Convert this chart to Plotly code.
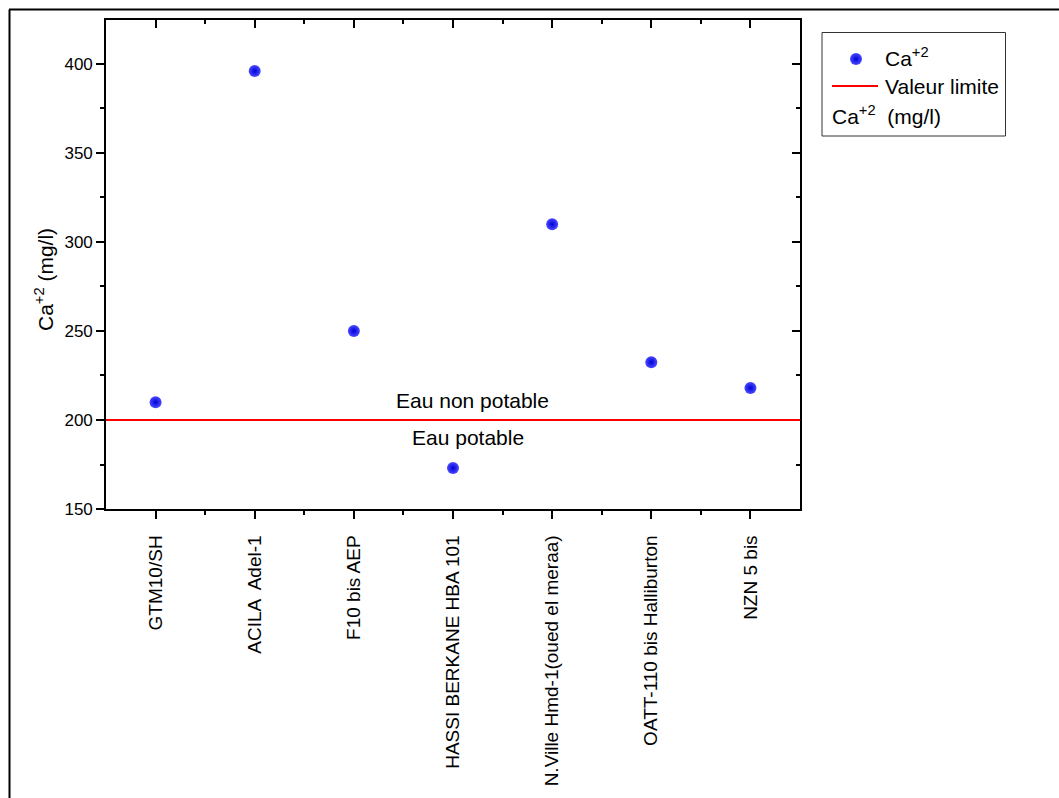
import plotly.graph_objects as go

# ---- data ----
categories = ["GTM10/SH", "ACILA  Adel-1", "F10 bis AEP", "HASSI BERKANE HBA 101",
              "N.Ville Hmd-1(oued el meraa)", "OATT-110 bis Halliburton", "NZN 5 bis"]
ca_values = [210, 396, 250, 173, 310, 232.5, 218]
limit_value = 200
zone_labels = ["Eau non potable", "Eau potable"]
y_ticks = [150, 200, 250, 300, 350, 400]

W, H = 1059, 798
FONT = "Arial, Liberation Sans, sans-serif"

def px(x):
    return x / W

def py(y):
    return 1 - y / H

idx = list(range(len(categories)))
minor_x = [i + 0.5 for i in idx[:-1]]
xrange_ = [-0.5, len(categories) - 0.5]
yrange_ = [150, 424.7]

xdom = [px(106), px(800)]
ydom = [py(509), py(20)]

fig = go.Figure()

sphere = dict(size=12, color="#4a4aff", line=dict(width=0),
              gradient=dict(type="radial", color="#0000d8"))

fig.add_trace(go.Scatter(x=idx, y=ca_values, mode="markers", marker=sphere,
                         showlegend=False, name="Ca+2"))
# helper traces for mirrored (top / right) axes
fig.add_trace(go.Scatter(x=[None], y=[None], xaxis="x2", yaxis="y",
                         showlegend=False, hoverinfo="skip"))
fig.add_trace(go.Scatter(x=[None], y=[None], xaxis="x", yaxis="y2",
                         showlegend=False, hoverinfo="skip"))
# legend symbol on a pixel-space helper axis
fig.add_trace(go.Scatter(x=[856], y=[59], xaxis="x3", yaxis="y3", mode="markers",
                         marker=sphere, showlegend=False, hoverinfo="skip"))

axis_common = dict(showgrid=False, zeroline=False, showline=True, linecolor="black",
                   linewidth=1.6, tickcolor="black", tickwidth=1.5, automargin=False)

fig.update_layout(
    width=W, height=H,
    margin=dict(l=0, r=0, t=0, b=0, autoexpand=False),
    paper_bgcolor="white", plot_bgcolor="rgba(0,0,0,0)",
    font=dict(family=FONT, color="black"),
    showlegend=False,
    xaxis=dict(domain=xdom, range=xrange_, tickmode="array", tickvals=idx,
               ticktext=categories, tickangle=-90, ticks="outside", ticklen=8,
               tickfont=dict(size=19), ticklabelstandoff=9,
               minor=dict(tickmode="array", tickvals=minor_x, ticks="outside",
                          ticklen=4, tickcolor="black", tickwidth=1.5),
               anchor="y", **axis_common),
    yaxis=dict(domain=ydom, range=yrange_, tickmode="array", tickvals=y_ticks,
               ticks="outside", ticklen=8, tickfont=dict(size=17),
               minor=dict(tickmode="linear", tick0=0, dtick=25, ticks="outside",
                          ticklen=4, tickcolor="black", tickwidth=1.5),
               anchor="x", **axis_common),
    xaxis2=dict(overlaying="x", side="top", range=xrange_, tickmode="array",
                tickvals=idx, ticks="inside", ticklen=8, showticklabels=False,
                minor=dict(tickmode="array", tickvals=minor_x, ticks="inside",
                           ticklen=4, tickcolor="black", tickwidth=1.5),
                anchor="y", **axis_common),
    yaxis2=dict(overlaying="y", side="right", range=yrange_, tickmode="array",
                tickvals=y_ticks, ticks="inside", ticklen=8, showticklabels=False,
                minor=dict(tickmode="linear", tick0=0, dtick=25, ticks="inside",
                           ticklen=4, tickcolor="black", tickwidth=1.5),
                anchor="x", **axis_common),
    xaxis3=dict(domain=[0, 1], range=[0, W], visible=False, anchor="y3",
                fixedrange=True, automargin=False),
    yaxis3=dict(domain=[0, 1], range=[H, 0], visible=False, anchor="x3",
                fixedrange=True, automargin=False),
)

shapes = [
    # limit line
    dict(type="line", xref="x domain", yref="y", x0=0, x1=1, y0=limit_value, y1=limit_value,
         line=dict(color="#ff0000", width=2)),
    # outer frame
    dict(type="line", xref="paper", yref="paper", x0=px(9), x1=1.02, y0=py(9.5), y1=py(9.5),
         line=dict(color="black", width=2)),
    dict(type="line", xref="paper", yref="paper", x0=px(9.5), x1=px(9.5), y0=py(9.5), y1=-0.02,
         line=dict(color="black", width=2)),
    # legend box
    dict(type="rect", xref="paper", yref="paper", x0=px(822), x1=px(1005.5), y0=py(32.5), y1=py(136),
         line=dict(color="#333333", width=1), fillcolor="rgba(0,0,0,0)"),
    # legend red line
    dict(type="line", xref="paper", yref="paper", x0=px(832), x1=px(878), y0=py(86), y1=py(86),
         line=dict(color="#ff0000", width=2)),
]
fig.update_layout(shapes=shapes)

ann_font = dict(size=21)
annotations = [
    dict(x=3.2, y=210.7, xref="x", yref="y", text=zone_labels[0], showarrow=False,
         xanchor="center", yanchor="middle", font=ann_font),
    dict(x=3.15, y=190.4, xref="x", yref="y", text=zone_labels[1], showarrow=False,
         xanchor="center", yanchor="middle", font=ann_font),
    dict(x=px(44), y=py(280), xref="paper", yref="paper", text="Ca<sup>+2</sup> (mg/l)",
         textangle=-90, xanchor="center", yanchor="middle", showarrow=False,
         font=ann_font),
    dict(x=px(883), y=py(57), xref="paper", yref="paper", text="Ca<sup>+2</sup>",
         xanchor="left", yanchor="middle", showarrow=False, font=ann_font),
    dict(x=px(883), y=py(86), xref="paper", yref="paper", text="Valeur limite",
         xanchor="left", yanchor="middle", showarrow=False, font=ann_font),
    dict(x=px(830), y=py(115), xref="paper", yref="paper", text="Ca<sup>+2</sup>  (mg/l)",
         xanchor="left", yanchor="middle", showarrow=False, font=ann_font),
]
fig.update_layout(annotations=annotations)

fig.write_html("out.html")
